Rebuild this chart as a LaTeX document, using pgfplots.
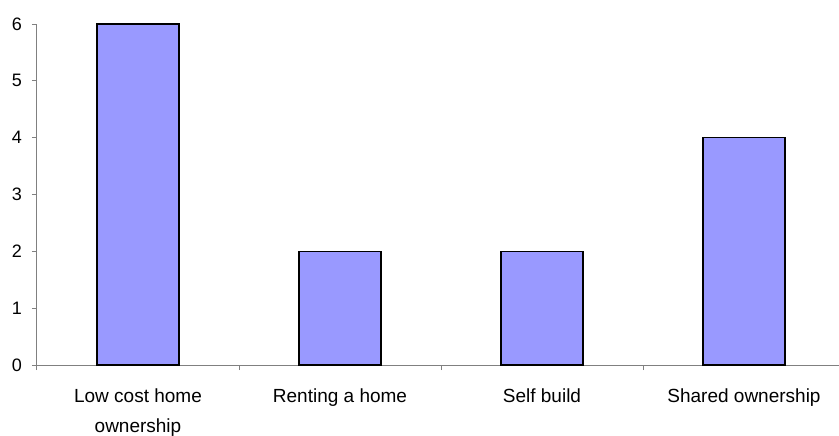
\documentclass[border=0pt]{standalone}
\usepackage{pgfplots}
\pgfplotsset{compat=1.18}
\usepackage{fontspec}
\setmainfont{Liberation Sans}
\definecolor{barfill}{HTML}{9999FF}
\definecolor{axgray}{HTML}{808080}
\begin{document}
\begin{tikzpicture}
\path[use as bounding box] (-18.5pt,-35pt) rectangle (401pt,182.5pt);
\begin{axis}[
  at={(0pt,0pt)}, anchor=south west,
  scale only axis,
  width=404pt, height=170.5pt,
  xmin=-0.5, xmax=3.5,
  ymin=0, ymax=6,
  axis x line=bottom, axis y line=left,
  axis line style={-, draw=axgray, line width=0.5pt},
  tick align=outside,
  major tick length=2.5pt,
  tick style={draw=axgray, line width=0.5pt},
  xtick={-0.5,0.5,1.5,2.5,3.5},
  xticklabels={},
  ytick={0,1,2,3,4,5,6},
  /pgf/number format/assume math mode=true,
  yticklabel style={font=\fontsize{9}{10}\selectfont, xshift=-1.5pt},
  extra x ticks={0,1,2,3},
  extra x tick labels={Low cost home\\ownership, Renting a home, Self build, Shared ownership},
  extra x tick style={major tick length=0pt, tick style={draw=none},
    xticklabel style={align=center, font=\fontsize{9.5}{15}\selectfont, anchor=north, yshift=-8.5pt}},
  bar width=41pt,
  clip=false,
]
\addplot[ybar, fill=barfill, draw=black, line width=0.8pt, bar shift=0pt]
  coordinates {(0,6) (1,2) (2,2) (3,4)};
\end{axis}
\end{tikzpicture}
\end{document}
